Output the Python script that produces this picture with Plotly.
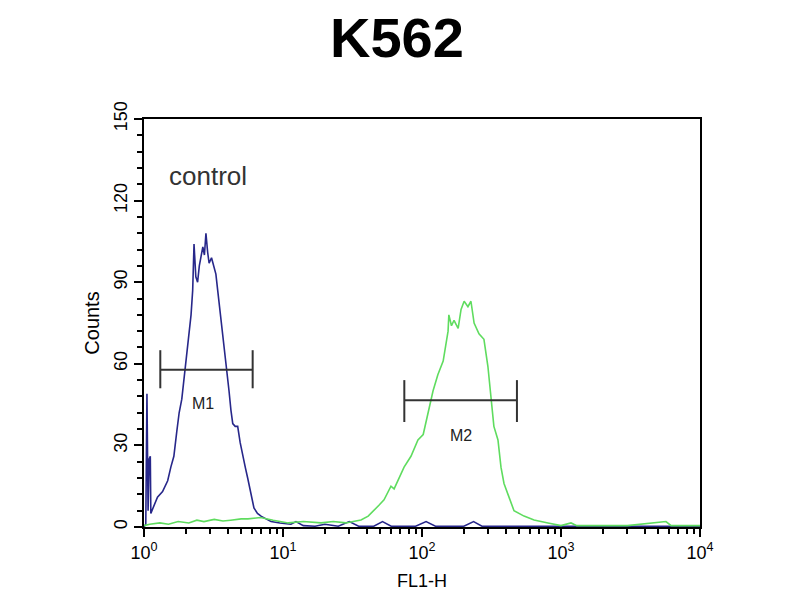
import math
import plotly.graph_objects as go

# Blue histogram (control), FL1-H intensity vs counts
blue_x = [1.00, 1.03, 1.05, 1.07, 1.09, 1.11, 1.12, 1.18, 1.25, 1.36, 1.48, 1.56, 1.64, 1.72,
          1.79, 1.87, 1.94, 2.03, 2.11, 2.18, 2.24, 2.29, 2.36, 2.43, 2.50, 2.57, 2.65, 2.72,
          2.79, 2.87, 2.94, 3.06, 3.19, 3.29, 3.39, 3.48, 3.58, 3.67, 3.76, 3.92, 4.09, 4.22,
          4.35, 4.53, 4.72, 4.92, 5.13, 5.35, 5.57, 5.87, 6.18, 6.55, 6.95, 7.55, 8.20, 9.5,
          11.4, 12.4, 14, 17, 20, 25, 30, 35, 45, 52, 60, 90, 107, 125, 200, 235, 270, 10000]
blue_y = [0, 1, 49, 6, 25, 26, 5, 8, 11, 13, 17, 22, 26, 35,
          42, 47, 55, 63, 71, 78, 87, 104, 92, 90, 96, 99, 103, 100,
          108, 101, 97, 99, 95, 93, 87, 82, 77, 72, 66, 58, 50, 43,
          38, 37, 37, 31, 26, 22, 18, 13, 7, 5, 4, 3, 2, 1.5,
          1, 2, 0.5, 0.3, 1, 0.3, 2, 0.3, 0.3, 2, 0.3, 0.3, 2, 0.3, 0.3, 2, 0.3, 0.3]

# Green histogram (antibody)
green_x = [1.00, 1.1, 1.3, 1.5, 1.76, 2.1, 2.4, 2.7, 3.2, 3.7, 4.2, 5.0, 5.6, 6.9, 8.5, 10.9,
           14, 18.8, 23, 28.4, 32, 36.4, 41, 45.2, 49, 53.3, 59.8, 63, 67.2, 74.3, 83.3, 93.5,
           102, 110, 120, 130, 142, 154, 156, 163, 170, 182, 191, 201, 214, 225, 237, 257,
           279, 298, 314, 329, 352, 370, 389, 423, 459, 542, 640, 806, 891, 1000, 1180, 1300,
           3000, 5690, 6200, 10000]
green_y = [0.5, 1, 1.5, 1, 2, 1.5, 2.5, 2, 2.8, 2.2, 2.5, 3, 3, 3.5, 2.5, 1.5,
           2, 1.5, 2, 1.5, 2, 2.6, 4, 6, 8, 10, 15, 14, 17, 22, 26, 32,
           34, 42, 50, 56, 61, 72, 78, 74, 76, 73, 80, 83, 81, 83, 75, 71,
           69, 59, 48, 37, 32, 22, 16, 11, 6, 4, 2.6, 1.5, 1, 0.5, 1.5, 0.5,
           0.5, 2, 0.5, 0.5]

# Marker gates
gate_names = ["M1", "M2"]
gate_lo = [1.31, 74.6]
gate_hi = [6.05, 482]
gate_level = [57.8, 46.6]
gate_cap_lo = [51, 38.6]
gate_cap_hi = [65, 54]
gate_label_x = [2.64, 191]
gate_label_y = [45.4, 33.7]

x_tickvals = [1, 10, 100, 1000, 10000]
x_ticktext = ["10<sup>0</sup>", "10<sup>1</sup>", "10<sup>2</sup>", "10<sup>3</sup>", "10<sup>4</sup>"]
y_tickvals = [0, 30, 60, 90, 120, 150]

FONT = "Liberation Sans, Arial, sans-serif"

fig = go.Figure()
fig.add_trace(go.Scatter(x=blue_x, y=blue_y, mode="lines",
                         line=dict(color="#27278a", width=1.6), showlegend=False))
fig.add_trace(go.Scatter(x=green_x, y=green_y, mode="lines",
                         line=dict(color="#5fdc5f", width=1.6), showlegend=False))

for i, name in enumerate(gate_names):
    gx = [gate_lo[i], gate_hi[i], None, gate_lo[i], gate_lo[i], None, gate_hi[i], gate_hi[i]]
    gy = [gate_level[i], gate_level[i], None, gate_cap_lo[i], gate_cap_hi[i], None,
          gate_cap_lo[i], gate_cap_hi[i]]
    fig.add_trace(go.Scatter(x=gx, y=gy, mode="lines",
                             line=dict(color="#333333", width=2), showlegend=False))
    fig.add_annotation(x=math.log10(gate_label_x[i]), y=gate_label_y[i], text=name,
                       showarrow=False, font=dict(family=FONT, size=16, color="#222222"))

fig.add_annotation(x=math.log10(1.46), y=129, text="control", showarrow=False,
                   xanchor="left", font=dict(family=FONT, size=26, color="#333333"))

# Title as a paper-referenced annotation
fig.add_annotation(x=0.455, y=1.20, xref="paper", yref="paper", text="<b>K562</b>",
                   showarrow=False, xanchor="center", yanchor="middle",
                   font=dict(family=FONT, size=56, color="black"))

fig.update_layout(
    width=800, height=600,
    paper_bgcolor="white", plot_bgcolor="white",
    margin=dict(l=136, r=108, t=111, b=81),
    font=dict(family=FONT, color="black"),
)

fig.update_xaxes(
    type="log", range=[0, 4],
    tickmode="array", tickvals=x_tickvals, ticktext=x_ticktext,
    ticks="outside", ticklen=8, tickwidth=1.5, tickcolor="black",
    minor=dict(ticks="outside", ticklen=5, tickwidth=1.5, tickcolor="black",
               dtick="D1", showgrid=False),
    showline=True, linecolor="black", linewidth=2, mirror=True,
    showgrid=False, zeroline=False,
    tickfont=dict(family=FONT, size=18, color="black"),
    title=dict(text="FL1-H", font=dict(family=FONT, size=18, color="black"), standoff=13),
)
fig.update_yaxes(
    range=[0, 150],
    tickmode="array", tickvals=y_tickvals,
    ticks="outside", ticklen=8, tickwidth=1.5, tickcolor="black",
    minor=dict(ticks="outside", ticklen=5, tickwidth=1.5, tickcolor="black",
               dtick=6, showgrid=False),
    tickangle=-90,
    showline=True, linecolor="black", linewidth=2, mirror=True,
    showgrid=False, zeroline=False,
    tickfont=dict(family=FONT, size=18, color="black"),
    title=dict(text="Counts", font=dict(family=FONT, size=20, color="black"), standoff=6),
)

fig.write_html("out.html")
